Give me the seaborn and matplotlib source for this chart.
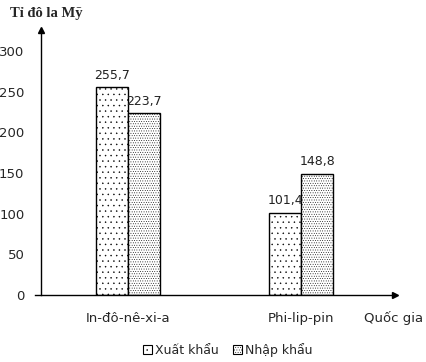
import pandas as pd
import numpy as np
import seaborn as sns
import matplotlib.pyplot as plt
from matplotlib.patches import Patch

# DATA
countries = ['In-đô-nê-xi-a', 'Phi-lip-pin']
series = ['Xuất khẩu', 'Nhập khẩu']
xuat_khau = [255.7, 101.4]
nhap_khau = [223.7, 148.8]
yticks = [0, 50, 100, 150, 200, 250, 300]

df = pd.DataFrame({
    'country': countries * 2,
    'type': [series[0]] * 2 + [series[1]] * 2,
    'value': xuat_khau + nhap_khau,
})

sns.set_style('white')
plt.rcParams['font.family'] = ['DejaVu Sans']
plt.rcParams['hatch.linewidth'] = 0.3

fig = plt.figure(figsize=(4.27, 3.62), dpi=100)
ax = fig.add_axes([41 / 427, 67 / 362, (395 - 41) / 427, (295 - 30) / 362])

sns.barplot(data=df, x='country', y='value', hue='type', hue_order=series,
            palette=['white', 'white'], width=0.37, edgecolor='black',
            linewidth=1, ax=ax, legend=False, saturation=1)

hatches = ['...', '.......']
for cont, h, vals in zip(ax.containers, hatches, [xuat_khau, nhap_khau]):
    for bar in cont:
        bar.set_hatch(h)
    ax.bar_label(cont, labels=[f'{v:.1f}'.replace('.', ',') for v in vals],
                 padding=4, fontsize=9, color='#222222')

ax.set_xlim(-0.503, 1.543)
ax.set_ylim(0, 326)
ax.set_yticks(yticks)
ax.set_yticklabels([str(t) for t in yticks], fontsize=9.5)
ax.set_xticks([0, 1])
ax.set_xticklabels(countries, fontsize=9.5)
ax.set_xticks([1.503], minor=True)
ax.tick_params(axis='y', which='major', direction='inout', length=12, width=1, pad=6)
ax.tick_params(axis='x', which='major', direction='out', length=3, width=1, pad=9)
ax.tick_params(axis='x', which='minor', direction='out', length=3, width=1)
ax.set_xlabel('')
ax.set_ylabel('')

for s in ['top', 'right']:
    ax.spines[s].set_visible(False)
for s in ['left', 'bottom']:
    ax.spines[s].set_color('black')
    ax.spines[s].set_linewidth(1)
ax.spines['bottom'].set_bounds(-0.54, 1.543)

# arrows at axis ends
ax.plot(0, 1, '^k', markersize=5, transform=ax.transAxes, clip_on=False)
ax.plot(1, 0, '>k', markersize=5, transform=ax.transAxes, clip_on=False)

fig.text(10 / 427, 1 - 14 / 362, 'Tỉ đô la Mỹ', fontsize=10.5, fontweight='bold',
         family='Liberation Serif', va='center', ha='left')
fig.text(394 / 427, 1 - 318 / 362, 'Quốc gia', fontsize=9.5, va='center', ha='center')

handles = [Patch(facecolor='white', edgecolor='black', hatch=h, linewidth=0.8) for h in hatches]
fig.legend(handles, series, loc='center', bbox_to_anchor=(228 / 427, 12 / 362),
           ncol=2, frameon=False, fontsize=9, handlelength=0.7, handleheight=0.7,
           handletextpad=0.3, columnspacing=1.1)

fig.savefig('out.png', dpi=100)
